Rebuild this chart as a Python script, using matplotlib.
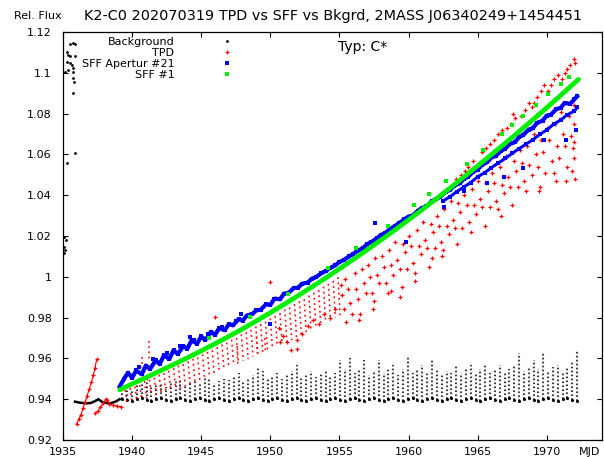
import matplotlib.pyplot as plt
from matplotlib.ticker import FuncFormatter, MultipleLocator

# SFF #1: smooth curve read at whole years (+ start / end)
sff1_t = [1939.1, 1940, 1941, 1942, 1943, 1944, 1945, 1946, 1947, 1948, 1949,
          1950, 1951, 1952, 1953, 1954, 1955, 1956, 1957, 1958, 1959, 1960,
          1961, 1962, 1963, 1964, 1965, 1966, 1967, 1968, 1969, 1970, 1971,
          1972, 1972.3]
sff1_f = [0.9446, 0.9475, 0.9506, 0.9538, 0.9570, 0.9603, 0.9637, 0.9672,
          0.9708, 0.9745, 0.9784, 0.9824, 0.9865, 0.9907, 0.9950, 0.9994,
          1.0039, 1.0085, 1.0132, 1.0180, 1.0229, 1.0279, 1.0330, 1.0382,
          1.0435, 1.0489, 1.0544, 1.0599, 1.0655, 1.0712, 1.0770, 1.0829,
          1.0889, 1.0950, 1.0968]
# SFF #1 single points sitting above the curve
sff1_pt_t = [1945.6, 1948.5, 1951.3, 1954.2, 1956.2, 1958.5, 1960.4, 1961.5, 1962.7,
             1964.2, 1965.4, 1966.8, 1967.5, 1968.3, 1969.2, 1970.1, 1971.0, 1971.6]
sff1_pt_f = [0.9700, 0.9805, 0.9918, 1.0045, 1.0140, 1.0250, 1.0350, 1.0405, 1.0470,
             1.0552, 1.0620, 1.0700, 1.0742, 1.0790, 1.0840, 1.0895, 1.0945, 1.0980]

# SFF Apertur #21: noisy band
sff21_t = [1939.1, 1939.4, 1939.7, 1940.0, 1940.3, 1940.7, 1941.0, 1941.3, 1941.7,
           1942.0, 1942.3, 1942.7, 1943.0, 1943.3, 1943.7, 1944.0, 1944.3, 1944.7,
           1945.0, 1945.3, 1945.7, 1946.0, 1946.3, 1946.7, 1947.0, 1947.3, 1947.7,
           1948.0, 1948.3, 1948.7, 1949.0, 1949.3, 1949.7, 1950.0, 1950.3, 1950.7,
           1951.0, 1951.3, 1951.7, 1952.0, 1952.3, 1952.7, 1953.0, 1953.3, 1953.7,
           1954.0, 1954.3, 1954.7, 1955.0, 1955.3, 1955.7, 1956.0, 1956.3, 1956.7,
           1957.0, 1957.3, 1957.7, 1958.0, 1958.3, 1958.7, 1959.0, 1959.3, 1959.7,
           1960.0, 1960.3, 1960.7, 1961.0, 1961.3, 1961.7, 1962.0, 1962.3, 1962.7,
           1963.0, 1963.3, 1963.7, 1964.0, 1964.3, 1964.7, 1965.0, 1965.3, 1965.7,
           1966.0, 1966.3, 1966.7, 1967.0, 1967.3, 1967.7, 1968.0, 1968.3, 1968.7,
           1969.0, 1969.3, 1969.7, 1970.0, 1970.3, 1970.7, 1971.0, 1971.3, 1971.7,
           1972.0, 1972.2]
sff21_f = [0.9462, 0.9498, 0.9530, 0.9505, 0.9541, 0.9522, 0.9565, 0.9548, 0.9590,
           0.9572, 0.9615, 0.9598, 0.9640, 0.9621, 0.9660, 0.9648, 0.9688, 0.9672,
           0.9708, 0.9690, 0.9730, 0.9716, 0.9748, 0.9738, 0.9768, 0.9762, 0.9792,
           0.9785, 0.9810, 0.9818, 0.9836, 0.9838, 0.9866, 0.9862, 0.9893, 0.9890,
           0.9918, 0.9920, 0.9945, 0.9946, 0.9966, 0.9972, 0.9990, 0.9998, 1.0018,
           1.0028, 1.0042, 1.0056, 1.0072, 1.0082, 1.0100, 1.0112, 1.0128, 1.0140,
           1.0160, 1.0170, 1.0188, 1.0205, 1.0214, 1.0236, 1.0248, 1.0262, 1.0282,
           1.0295, 1.0300, 1.0325, 1.0338, 1.0345, 1.0372, 1.0380, 1.0392, 1.0418,
           1.0425, 1.0446, 1.0458, 1.0480, 1.0490, 1.0516, 1.0525, 1.0548, 1.0562,
           1.0585, 1.0592, 1.0618, 1.0628, 1.0650, 1.0660, 1.0685, 1.0695, 1.0722,
           1.0728, 1.0755, 1.0765, 1.0790, 1.0795, 1.0822, 1.0828, 1.0852, 1.0848,
           1.0870, 1.0885]
# lower edge of the band after 1962
sff21_low_t = [1962.5, 1963.0, 1963.5, 1964.0, 1964.5, 1965.0, 1965.5, 1966.0, 1966.5,
               1967.0, 1967.5, 1968.0, 1968.5, 1969.0, 1969.5, 1970.0, 1970.5, 1971.0,
               1971.5, 1972.0, 1972.2]
sff21_low_f = [1.0372, 1.0392, 1.0418, 1.0440, 1.0462, 1.0490, 1.0510, 1.0535, 1.0558,
               1.0580, 1.0605, 1.0628, 1.0650, 1.0672, 1.0698, 1.0720, 1.0748, 1.0768,
               1.0795, 1.0812, 1.0830]
sff21_pt_t = [1944.2, 1947.9, 1950.0, 1957.6, 1959.8, 1962.6, 1964.0, 1965.7, 1966.9,
              1968.3, 1969.8, 1971.4, 1972.1,
              1940.5, 1941.5, 1942.5, 1943.5, 1944.5, 1945.5, 1946.5, 1947.5]
sff21_pt_f = [0.9705, 0.9820, 0.9770, 1.0262, 1.0172, 1.0340, 1.0420, 1.0460, 1.0490,
              1.0533, 1.0670, 1.0670, 1.0720,
              0.9560, 0.9595, 0.9625, 0.9660, 0.9690, 0.9720, 0.9752, 0.9785]

# TPD: early traces
tpd_rise_t = [1935.99, 1936.15, 1936.3, 1936.45, 1936.6, 1936.75, 1936.9, 1937.05,
              1937.2, 1937.32, 1937.44]
tpd_rise_f = [0.9280, 0.9302, 0.9325, 0.9355, 0.9388, 0.9418, 0.9450, 0.9482,
              0.9520, 0.9555, 0.9596]
tpd_low_t = [1937.3, 1937.5, 1937.7, 1937.9, 1938.1, 1938.2, 1938.35, 1938.6, 1938.9, 1939.2]
tpd_low_f = [0.9330, 0.9340, 0.9360, 0.9380, 0.9400, 0.9395, 0.9375, 0.9370, 0.9366, 0.9364]

# TPD sawtooth ramps: (t0, top) -> (t1, bottom)
tpd_ramp_t0 = [1939.5, 1939.85, 1940.2, 1940.55, 1940.9, 1941.25, 1941.6, 1941.95, 1942.3,
               1942.65, 1943.0, 1943.35, 1943.7, 1944.05, 1944.4, 1944.75, 1945.1, 1945.45,
               1945.8, 1946.15, 1946.5, 1946.85, 1947.2, 1947.55, 1947.9, 1948.25, 1948.6,
               1948.95, 1949.3, 1949.65, 1950.0, 1950.35, 1950.7, 1951.05, 1951.4, 1951.75,
               1952.1, 1952.45, 1952.8, 1953.15, 1953.5, 1953.85, 1954.2, 1954.55, 1954.9,
               1941.2, 1940.7, 1947.6, 1949.0, 1949.6]
tpd_ramp_t1 = [1939.65, 1940.0, 1940.35, 1940.7, 1941.05, 1941.4, 1941.75, 1942.1, 1942.45,
               1942.8, 1943.15, 1943.5, 1943.85, 1944.2, 1944.55, 1944.9, 1945.25, 1945.6,
               1945.95, 1946.3, 1946.65, 1947.0, 1947.35, 1947.7, 1948.05, 1948.4, 1948.75,
               1949.1, 1949.45, 1949.8, 1950.15, 1950.5, 1950.85, 1951.2, 1951.55, 1951.9,
               1952.25, 1952.6, 1952.95, 1953.3, 1953.65, 1954.0, 1954.35, 1954.7, 1955.05,
               1941.2, 1940.7, 1947.65, 1949.05, 1949.65]
tpd_ramp_top = [0.9445, 0.9455, 0.9462, 0.9470, 0.9488, 0.9495, 0.9505, 0.9520, 0.9528,
                0.9540, 0.9552, 0.9565, 0.9572, 0.9585, 0.9598, 0.9605, 0.9620, 0.9632,
                0.9640, 0.9655, 0.9668, 0.9678, 0.9692, 0.9700, 0.9718, 0.9728, 0.9740,
                0.9757, 0.9768, 0.9780, 0.9796, 0.9808, 0.9822, 0.9840, 0.9850, 0.9866,
                0.9880, 0.9890, 0.9908, 0.9922, 0.9935, 0.9952, 0.9966, 0.9980, 0.9998,
                0.9685, 0.9605, 0.9660, 0.9707, 0.9700]
tpd_ramp_bot = [0.9370, 0.9380, 0.9390, 0.9400, 0.9405, 0.9418, 0.9420, 0.9430, 0.9428,
                0.9440, 0.9450, 0.9452, 0.9465, 0.9470, 0.9482, 0.9490, 0.9500, 0.9512,
                0.9520, 0.9535, 0.9545, 0.9552, 0.9568, 0.9575, 0.9588, 0.9596, 0.9610,
                0.9622, 0.9632, 0.9640, 0.9652, 0.9660, 0.9672, 0.9678, 0.9690, 0.9700,
                0.9712, 0.9725, 0.9738, 0.9752, 0.9762, 0.9778, 0.9786, 0.9800, 0.9812,
                0.9590, 0.9555, 0.9560, 0.9626, 0.9630]

# TPD scattered points
tpd_t = [1946.0, 1950.0,
         1950.6, 1950.9, 1951.2, 1951.5, 1951.9, 1952.3, 1952.7, 1953.1, 1953.5, 1953.9,
         1954.3, 1954.7, 1950.7, 1951.9,
         1955.1, 1955.2, 1955.3, 1955.5, 1955.6, 1955.8, 1955.9, 1955.4,
         1956.1, 1956.2, 1956.35, 1956.5, 1956.6, 1956.75, 1956.9, 1956.45,
         1957.05, 1957.2, 1957.35, 1957.5, 1957.6, 1957.75, 1957.9, 1957.45,
         1958.05, 1958.2, 1958.35, 1958.5, 1958.6, 1958.75, 1958.9, 1958.7,
         1959.05, 1959.2, 1959.35, 1959.5, 1959.6, 1959.75, 1959.9, 1959.4,
         1960.05, 1960.2, 1960.35, 1960.5, 1960.6, 1960.75, 1960.9, 1960.45,
         1961.05, 1961.2, 1961.35, 1961.5, 1961.6, 1961.75, 1961.9, 1961.7,
         1962.05, 1962.2, 1962.35, 1962.5, 1962.6, 1962.75, 1962.9, 1962.45,
         1963.05, 1963.2, 1963.35, 1963.5, 1963.6, 1963.75, 1963.9, 1963.4, 1963.8,
         1964.05, 1964.2, 1964.35, 1964.5, 1964.6, 1964.75, 1964.9, 1964.3, 1964.7, 1964.1,
         1965.05, 1965.2, 1965.35, 1965.5, 1965.6, 1965.75, 1965.9, 1965.3, 1965.6, 1965.9,
         1966.05, 1966.2, 1966.35, 1966.5, 1966.6, 1966.75, 1966.9, 1966.2, 1966.5, 1966.8, 1966.7,
         1967.05, 1967.2, 1967.35, 1967.5, 1967.6, 1967.75, 1967.9, 1967.1, 1967.4, 1967.7, 1967.55,
         1968.05, 1968.2, 1968.35, 1968.5, 1968.6, 1968.75, 1968.9, 1968.15, 1968.4, 1968.7, 1968.9,
         1969.05, 1969.2, 1969.35, 1969.5, 1969.6, 1969.75, 1969.9, 1969.1, 1969.3, 1969.6, 1969.8,
         1969.45,
         1970.05, 1970.2, 1970.35, 1970.5, 1970.6, 1970.75, 1970.9, 1970.1, 1970.3, 1970.5, 1970.8,
         1970.65,
         1971.05, 1971.2, 1971.35, 1971.5, 1971.6, 1971.75, 1971.9, 1971.1, 1971.3, 1971.5, 1971.7,
         1971.4, 1971.85,
         1972.0, 1972.0, 1972.0, 1972.0, 1972.05, 1971.95, 1972.05]
tpd_f = [0.9804, 0.9976,
         0.975, 0.971, 0.968, 0.964, 0.969, 0.972, 0.976, 0.979, 0.977, 0.982,
         0.980, 0.984, 0.968, 0.9645,
         0.996, 0.991, 0.984, 0.978, 0.994, 0.987, 0.982, 0.999,
         1.002, 0.994, 0.989, 0.982, 1.004, 0.997, 0.992, 0.979,
         1.006, 1.000, 0.992, 0.988, 1.009, 1.001, 0.997, 0.984,
         1.010, 1.005, 0.997, 0.992, 1.013, 1.006, 1.001, 0.993,
         1.017, 1.008, 1.004, 0.995, 1.016, 1.012, 1.004, 0.990,
         1.020, 1.015, 1.007, 1.002, 1.023, 1.015, 1.011, 0.998,
         1.027, 1.018, 1.014, 1.005, 1.026, 1.022, 1.014, 1.009,
         1.030, 1.025, 1.017, 1.013, 1.033, 1.025, 1.021, 1.010,
         1.037, 1.028, 1.024, 1.016, 1.036, 1.032, 1.024, 1.048, 1.050,
         1.040, 1.035, 1.027, 1.022, 1.043, 1.035, 1.031, 1.054, 1.057, 1.052,
         1.047, 1.038, 1.034, 1.025, 1.046, 1.042, 1.034, 1.061, 1.063, 1.065,
         1.051, 1.046, 1.037, 1.033, 1.054, 1.045, 1.041, 1.067, 1.070, 1.072, 1.030,
         1.059, 1.049, 1.044, 1.035, 1.057, 1.052, 1.044, 1.073, 1.075, 1.078, 1.080,
         1.062, 1.056, 1.047, 1.042, 1.064, 1.055, 1.050, 1.079, 1.082, 1.085, 1.083,
         1.070, 1.060, 1.054, 1.044, 1.067, 1.061, 1.051, 1.085, 1.088, 1.091, 1.094,
         1.042,
         1.073, 1.067, 1.057, 1.051, 1.075, 1.064, 1.058, 1.091, 1.094, 1.097, 1.099,
         1.047,
         1.081, 1.070, 1.064, 1.054, 1.079, 1.069, 1.063, 1.097, 1.100, 1.102, 1.104,
         1.047, 1.052,
         1.084, 1.075, 1.066, 1.058, 1.048, 1.107, 1.105]

# Background: stray points at the left edge
bkg_edge_t = [1935.5, 1935.74, 1935.86, 1935.27, 1935.36, 1935.5, 1935.87, 1935.27,
              1935.5, 1935.62, 1935.75, 1935.75, 1935.15, 1935.36, 1935.75, 1935.8,
              1935.75, 1935.9, 1935.27, 1935.1, 1935.1, 1935.15, 1935.2, 1935.1]
bkg_edge_f = [1.1140, 1.1145, 1.1143, 1.1100, 1.1087, 1.1080, 1.1080, 1.1054,
              1.1047, 1.1038, 1.1022, 1.1005, 1.1005, 1.1014, 1.0973, 1.0956,
              1.0900, 1.0605, 1.0556, 1.0197, 1.0148, 1.0131, 1.0180, 1.0117]
# Background: early baseline
bkg_base_t = [1935.87, 1936.2, 1936.6, 1937.0, 1937.3, 1937.56, 1937.8, 1938.1, 1938.4,
              1938.8, 1939.1]
bkg_base_f = [0.9388, 0.9383, 0.9380, 0.9381, 0.9390, 0.9400, 0.9388, 0.9382, 0.9380,
              0.9388, 0.9400]
# Background: columns of points (time, lowest, highest)
bkg_col_t = [1939.3, 1939.65, 1940.0, 1940.35, 1940.7, 1941.05, 1941.4, 1941.75, 1942.1,
             1942.45, 1942.8, 1943.15, 1943.5, 1943.85, 1944.2, 1944.55, 1944.9, 1945.25,
             1945.6, 1945.95, 1946.3, 1946.65, 1947.0, 1947.35, 1947.7, 1948.05, 1948.4,
             1948.75, 1949.1, 1949.45, 1949.8, 1950.15, 1950.5, 1950.85, 1951.2, 1951.55,
             1951.9, 1952.25, 1952.6, 1952.95, 1953.3, 1953.65, 1954.0, 1954.35, 1954.7,
             1955.05, 1955.4, 1955.75, 1956.1, 1956.45, 1956.8, 1957.15, 1957.5, 1957.85,
             1958.2, 1958.55, 1958.9, 1959.25, 1959.6, 1959.95, 1960.3, 1960.65, 1961.0,
             1961.35, 1961.7, 1962.05, 1962.4, 1962.75, 1963.1, 1963.45, 1963.8, 1964.15,
             1964.5, 1964.85, 1965.2, 1965.55, 1965.9, 1966.25, 1966.6, 1966.95, 1967.3,
             1967.65, 1968.0, 1968.35, 1968.7, 1969.05, 1969.4, 1969.75, 1970.1, 1970.45,
             1970.8, 1971.15, 1971.5, 1971.85, 1972.2]
bkg_col_lo = [0.9400, 0.9395, 0.9390, 0.9400, 0.9405, 0.9395, 0.9390, 0.9400, 0.9405,
              0.9395, 0.9390, 0.9400, 0.9405, 0.9395, 0.9390, 0.9400, 0.9405, 0.9395,
              0.9390, 0.9400, 0.9405, 0.9395, 0.9390, 0.9400, 0.9405, 0.9395, 0.9390,
              0.9400, 0.9405, 0.9395, 0.9390, 0.9400, 0.9405, 0.9395, 0.9390, 0.9400,
              0.9405, 0.9395, 0.9390, 0.9400, 0.9405, 0.9395, 0.9390, 0.9400, 0.9405,
              0.9395, 0.9390, 0.9400, 0.9405, 0.9395, 0.9390, 0.9400, 0.9405, 0.9395,
              0.9390, 0.9400, 0.9405, 0.9395, 0.9390, 0.9400, 0.9405, 0.9395, 0.9390,
              0.9400, 0.9405, 0.9395, 0.9390, 0.9400, 0.9405, 0.9395, 0.9390, 0.9400,
              0.9405, 0.9395, 0.9390, 0.9400, 0.9405, 0.9395, 0.9390, 0.9400, 0.9405,
              0.9395, 0.9390, 0.9400, 0.9405, 0.9395, 0.9390, 0.9400, 0.9405, 0.9395,
              0.9390, 0.9400, 0.9405, 0.9395, 0.9390]
bkg_col_hi = [0.9440, 0.9460, 0.9450, 0.9470, 0.9480, 0.9500, 0.9460, 0.9470, 0.9480,
              0.9460, 0.9480, 0.9500, 0.9495, 0.9470, 0.9480, 0.9490, 0.9480, 0.9510,
              0.9500, 0.9480, 0.9490, 0.9500, 0.9495, 0.9510, 0.9530, 0.9490, 0.9500,
              0.9520, 0.9557, 0.9540, 0.9500, 0.9510, 0.9530, 0.9500, 0.9520, 0.9540,
              0.9567, 0.9510, 0.9520, 0.9540, 0.9510, 0.9530, 0.9545, 0.9510, 0.9530,
              0.9590, 0.9550, 0.9600, 0.9530, 0.9550, 0.9590, 0.9520, 0.9540, 0.9590,
              0.9530, 0.9550, 0.9570, 0.9520, 0.9550, 0.9608, 0.9530, 0.9550, 0.9570,
              0.9530, 0.9590, 0.9550, 0.9520, 0.9540, 0.9530, 0.9567, 0.9530, 0.9550,
              0.9570, 0.9530, 0.9550, 0.9570, 0.9530, 0.9550, 0.9570, 0.9530, 0.9550,
              0.9570, 0.9626, 0.9540, 0.9560, 0.9592, 0.9550, 0.9626, 0.9540, 0.9560,
              0.9567, 0.9530, 0.9560, 0.9580, 0.9641]

fig = plt.figure(figsize=(6.04, 4.57), dpi=100)
ax = fig.add_axes([63 / 604, 1 - 440 / 457, 539 / 604, 408 / 457])

# background
for t, lo, hi in zip(bkg_col_t, bkg_col_lo, bkg_col_hi):
    ax.plot([t, t], [lo, hi], color='#3a3a3a', lw=1.5, ls=(0, (0.8, 1.1)), zorder=1)
ax.plot(bkg_col_t, bkg_col_lo, ls='none', marker='.', ms=2.5, color='black', zorder=1)
ax.plot(bkg_base_t, bkg_base_f, color='black', lw=1.8, zorder=1)
ax.plot(bkg_edge_t, bkg_edge_f, ls='none', marker='.', ms=2, color='black', zorder=1,
        label='Background')

# TPD
for t0, t1, top, bot in zip(tpd_ramp_t0, tpd_ramp_t1, tpd_ramp_top, tpd_ramp_bot):
    ax.plot([t0, t1], [top, bot], color='red', lw=1.1, ls=(0, (1.2, 2.2)), zorder=2)
ax.plot(tpd_rise_t, tpd_rise_f, color='red', lw=0.8, marker='+', ms=3, mew=0.9, zorder=2)
ax.plot(tpd_low_t, tpd_low_f, color='red', lw=0.8, marker='+', ms=3, mew=0.9, zorder=2)
ax.plot(tpd_t, tpd_f, ls='none', marker='+', ms=3.2, mew=0.9, color='red', zorder=2,
        label='TPD')

# SFF Apertur #21
ax.plot(sff21_t, sff21_f, color='blue', lw=3.0, marker='s', ms=3.0, mew=0, zorder=3)
ax.plot(sff21_low_t, sff21_low_f, color='blue', lw=2.2, marker='s', ms=2.8, mew=0, zorder=3)
ax.plot(sff21_pt_t, sff21_pt_f, ls='none', marker='s', ms=2.8, mew=0, color='blue',
        zorder=3, label='SFF Apertur #21')

# SFF #1
ax.plot(sff1_t, sff1_f, color='#00ee00', lw=3.4, solid_capstyle='round', zorder=4)
ax.plot(sff1_pt_t, sff1_pt_f, ls='none', marker='s', ms=2.4, mew=0, color='#00ee00',
        zorder=4, label='SFF #1')

ax.set_xlim(1935, 1974)
ax.set_ylim(0.92, 1.12)
ax.xaxis.set_major_locator(MultipleLocator(5))
ax.yaxis.set_major_locator(MultipleLocator(0.02))
ax.xaxis.set_major_formatter(FuncFormatter(lambda v, p: '%g' % round(v, 4)))
ax.yaxis.set_major_formatter(FuncFormatter(lambda v, p: '%g' % round(v, 4)))
ax.tick_params(direction='in', length=3.6, width=0.8, top=True, right=True, labelsize=8)
ax.tick_params(axis='y', pad=8)
ax.tick_params(axis='x', pad=5)
for s in ax.spines.values():
    s.set_linewidth(0.9)

ax.legend(loc='upper left', bbox_to_anchor=(0.0347, 0.987), frameon=False,
          markerfirst=False, fontsize=8, handlelength=8.4, handletextpad=0.5,
          labelspacing=0.08, borderpad=0, borderaxespad=0, numpoints=1)

ax.text(0.5566, 0.963, 'Typ: C*', transform=ax.transAxes, ha='center', va='center',
        fontsize=10)
fig.text(333 / 604, 1 - 16 / 457,
         'K2-C0 202070319 TPD vs SFF vs Bkgrd, 2MASS J06340249+1454451',
         ha='center', va='center', fontsize=10.4)
fig.text(38 / 604, 1 - 16 / 457, 'Rel. Flux', ha='center', va='center', fontsize=8)
fig.text(590 / 604, 1 - 452 / 457, 'MJD', ha='center', va='center', fontsize=8)

fig.savefig('out.png', dpi=100)
